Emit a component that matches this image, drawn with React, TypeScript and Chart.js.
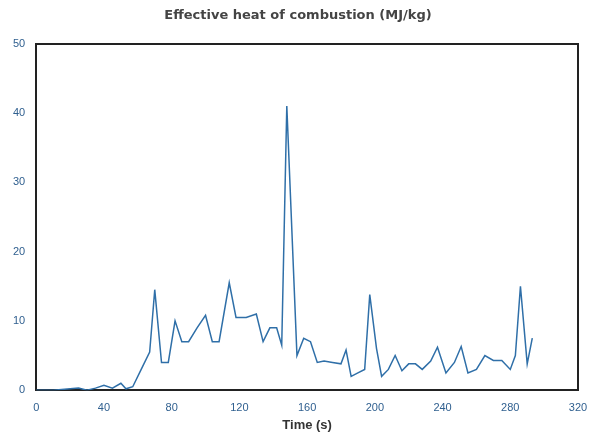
import React, { useEffect, useRef } from "react";
import { Chart, registerables } from "chart.js";
Chart.register(...registerables);

const times = [0,10,20,25,30,35,40,45,50,53,57,62,67,70,74,78,82,86,90,95,100,104,108,114,118,124,130,134,138,142,145,148,154,158,162,166,170,175,180,183,186,190,194,197,201,204,208,212,216,220,224,228,233,237,242,247,251,255,260,265,270,275,280,283,286,290,293];
const heat = [0,0,0.2,0.3,0,0.3,0.7,0.3,1,0.2,0.5,3,5.5,14.5,4,4,10,7,7,9,10.8,7,7,15.5,10.5,10.5,11,7,9,9,6.5,41,5,7.5,7,4,4.2,4,3.8,5.8,2,2.5,3,13.8,6,2,3,5,2.8,3.8,3.8,3,4.2,6.2,2.5,4,6.3,2.5,3,5,4.3,4.3,3,5,15,3.8,7.5];

export default function App() {
  const ref = useRef<HTMLCanvasElement>(null);
  useEffect(() => {
    const c = new Chart(ref.current!, {
      type: "line",
      data: { datasets: [{ data: times.map((t, i) => ({ x: t, y: heat[i] })), borderColor: "#2f6fa8", borderWidth: 1.5, pointRadius: 0, tension: 0 }] },
      options: {
        animation: false, responsive: true, maintainAspectRatio: false,
        layout: { padding: { left: 10, right: 10, top: 4, bottom: 0 } },
        plugins: { legend: { display: false }, title: { display: true, text: "Effective heat of combustion (MJ/kg)", color: "#444", font: { size: 13, weight: "bold", family: "DejaVu Sans" }, padding: { top: 4, bottom: 12 } } },
        scales: {
          x: { type: "linear", min: 0, max: 320, ticks: { stepSize: 40, color: "#2f5f8f", font: { size: 11 } }, grid: { display: false }, border: { color: "#222", width: 2 }, title: { display: true, text: "Time (s)", color: "#333", font: { size: 13, weight: "bold" }, padding: 0 } },
          y: { min: 0, max: 50, ticks: { stepSize: 10, color: "#2f5f8f", font: { size: 11 } }, grid: { display: false }, border: { color: "#222", width: 2 } },
          x2: { position: "top", type: "linear", min: 0, max: 320, ticks: { display: false }, grid: { display: false }, border: { color: "#222", width: 2 } },
          y2: { position: "right", min: 0, max: 50, ticks: { display: false }, grid: { display: false }, border: { color: "#222", width: 2 } },
        },
      },
    });
    return () => c.destroy();
  }, []);
  return <div style={{ position: "fixed", left: 0, top: 0, width: 596, height: 433, background: "#fff" }}><canvas ref={ref} /></div>;
}
